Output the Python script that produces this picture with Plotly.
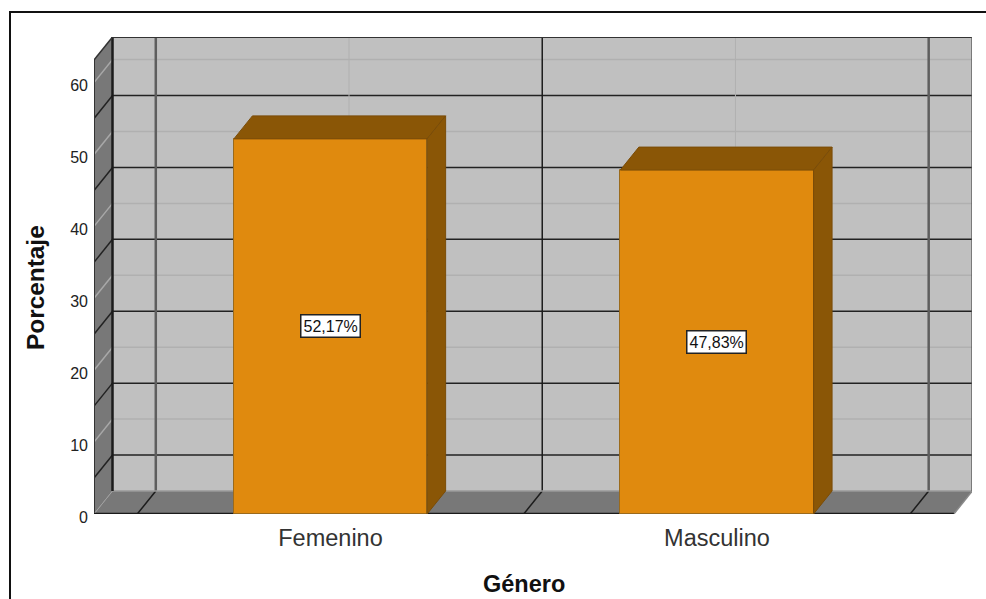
import plotly.graph_objects as go

categories = ["Femenino", "Masculino"]
percentages = [52.17, 47.83]
percent_labels = ["52,17%", "47,83%"]
y_ticks = [0, 10, 20, 30, 40, 50, 60]
grid_minor_steps = [5, 15, 25, 35, 45, 55]
x_title = "Género"
y_title = "Porcentaje"

# Depth of the pseudo-3D box, in axis units
DX = 0.0479
DY = 3.2
X0, X1 = -0.612, 1.613
Y_TOP = 63.14
BAR_W = 0.5
positions = list(range(len(categories)))

WALL = "#C0C0C0"
SIDE = "#787878"
BAR = "#E08A0E"
BAR_DARK = "#8A5606"


def poly(pts, fill, line=None, width=0, layer="below"):
    path = "M " + " L ".join(f"{x},{y}" for x, y in pts) + " Z"
    return dict(type="path", path=path, xref="x", yref="y", layer=layer,
                fillcolor=fill, line=dict(color=line or fill, width=width))


def seg(x0, y0, x1, y1, color, width, layer="below"):
    return dict(type="line", x0=x0, y0=y0, x1=x1, y1=y1, xref="x", yref="y",
                layer=layer, line=dict(color=color, width=width))


shapes = []
# back wall, floor, side wall
shapes.append(poly([(X0 + DX, DY), (X1 + DX, DY), (X1 + DX, Y_TOP + DY), (X0 + DX, Y_TOP + DY)], WALL))
shapes.append(poly([(X0, 0), (X1, 0), (X1 + DX, DY), (X0 + DX, DY)], SIDE))
shapes.append(poly([(X0, 0), (X0 + DX, DY), (X0 + DX, Y_TOP + DY), (X0, Y_TOP)], SIDE))

# horizontal grid: back wall + side wall
for v in y_ticks[1:]:
    shapes.append(seg(X0 + DX, v + DY, X1 + DX, v + DY, "#B0B0B0", 1.5))
    shapes.append(seg(X0, v, X0 + DX, v + DY, "#A8A8A8", 1.5))
for v in grid_minor_steps:
    shapes.append(seg(X0 + DX, v + DY, X1 + DX, v + DY, "#222222", 1.5))
    shapes.append(seg(X0, v, X0 + DX, v + DY, "#222222", 1.5))

# vertical grid
for p in positions:
    shapes.append(seg(p + DX, DY, p + DX, Y_TOP + DY, "#B0B0B0", 1))
    shapes.append(seg(p, 0, p + DX, DY, "#555555", 1))
for p, col, w in [(-0.5, "#5E5E5E", 2.5), (0.5, "#1c1c1c", 1.5), (1.5, "#5E5E5E", 2.5)]:
    shapes.append(seg(p + DX, DY, p + DX, Y_TOP + DY, col, w))
    shapes.append(seg(p, 0, p + DX, DY, "#1c1c1c", 1.5))

# box edges
shapes.append(seg(X0 + DX, DY, X1 + DX, DY, "#9A9A9A", 1.5))
shapes.append(seg(X0 + DX, DY, X0 + DX, Y_TOP + DY, "#1c1c1c", 2.5))
shapes.append(seg(X0 + DX, Y_TOP + DY, X1 + DX, Y_TOP + DY, "#333333", 2))
shapes.append(seg(X1 + DX, DY, X1 + DX, Y_TOP + DY, "#555555", 2))
shapes.append(seg(X0, 0, X0, Y_TOP, "#333333", 2))
shapes.append(seg(X0, Y_TOP, X0 + DX, Y_TOP + DY, "#333333", 1.5))
shapes.append(seg(X0, 0, X0 + DX, DY, "#A0A0A0", 1))
shapes.append(seg(X1, 0, X1 + DX, DY, "#8A8A8A", 1.5))
shapes.append(seg(X0, 0, X1, 0, "#1a1a1a", 2.5))

# outer frame of the picture, in paper fractions
fl, ft = (10 - 94) / 878, (514 - 12) / 477
fb = (514 - 599) / 477
shapes.append(dict(type="path", xref="paper", yref="paper", layer="above",
                   path=f"M {fl},{fb} L {fl},{ft} L {(986 - 94) / 878},{ft}",
                   line=dict(color="#111111", width=2)))

fig = go.Figure()
fig.add_trace(go.Bar(x=positions, y=percentages, width=BAR_W,
                     marker=dict(color=BAR, line=dict(color="#9A6A1C", width=1)),
                     hoverinfo="skip", showlegend=False))

# top and side faces of every bar
for p, v in zip(positions, percentages):
    l, r = p - BAR_W / 2, p + BAR_W / 2
    fig.add_trace(go.Scatter(x=[l, r, r + DX, l + DX, l], y=[v, v, v + DY, v + DY, v],
                             mode="lines", fill="toself", fillcolor=BAR_DARK,
                             line=dict(color="#7A4C08", width=1), hoverinfo="skip", showlegend=False))
    fig.add_trace(go.Scatter(x=[r, r + DX, r + DX, r, r], y=[0, DY, v + DY, v, 0],
                             mode="lines", fill="toself", fillcolor=BAR_DARK,
                             line=dict(color="#7A4C08", width=1), hoverinfo="skip", showlegend=False))

annotations = [
    dict(x=p, y=v / 2, xref="x", yref="y", text=t, showarrow=False,
         font=dict(family="Liberation Sans", size=16, color="#111111"),
         bgcolor="white", bordercolor="#222222", borderwidth=1.5, borderpad=2)
    for p, v, t in zip(positions, percentages, percent_labels)
]
# axis titles, centred on the floor of the box rather than on the plot area
annotations.append(dict(x=(524 - 94) / 878, y=(514 - 584) / 477, xref="paper", yref="paper",
                        text=f"<b>{x_title}</b>", showarrow=False, xanchor="center", yanchor="middle",
                        font=dict(family="Liberation Sans", size=23.5, color="#111111")))
annotations.append(dict(x=(35 - 94) / 878, y=(514 - 288) / 477, xref="paper", yref="paper",
                        text=f"<b>{y_title}</b>", showarrow=False, textangle=-90,
                        xanchor="center", yanchor="middle",
                        font=dict(family="Liberation Sans", size=24.4, color="#111111")))

fig.update_layout(
    width=986, height=599, autosize=False,
    margin=dict(l=94, r=14, t=37, b=85),
    paper_bgcolor="white", plot_bgcolor="white",
    shapes=shapes, annotations=annotations, showlegend=False, bargap=0,
    font=dict(family="Liberation Sans", color="#222222"),
    xaxis=dict(range=[-0.612, 1.66], tickvals=positions, ticktext=categories,
               showgrid=False, zeroline=False, showline=False, ticks="", ticklabelstandoff=7,
               tickfont=dict(size=23.5, color="#333333")),
    yaxis=dict(range=[0, 66.34], tickvals=y_ticks, showgrid=False, zeroline=False,
               showline=False, ticks="", ticklabelshift=3, ticklabelstandoff=5,
               tickfont=dict(size=16, color="#222222")),
)

fig.write_html("out.html", config=dict(displayModeBar=False, responsive=False),
               default_width="986px", default_height="599px",
               post_script="document.body.style.margin='0';document.documentElement.style.overflow='hidden';")
